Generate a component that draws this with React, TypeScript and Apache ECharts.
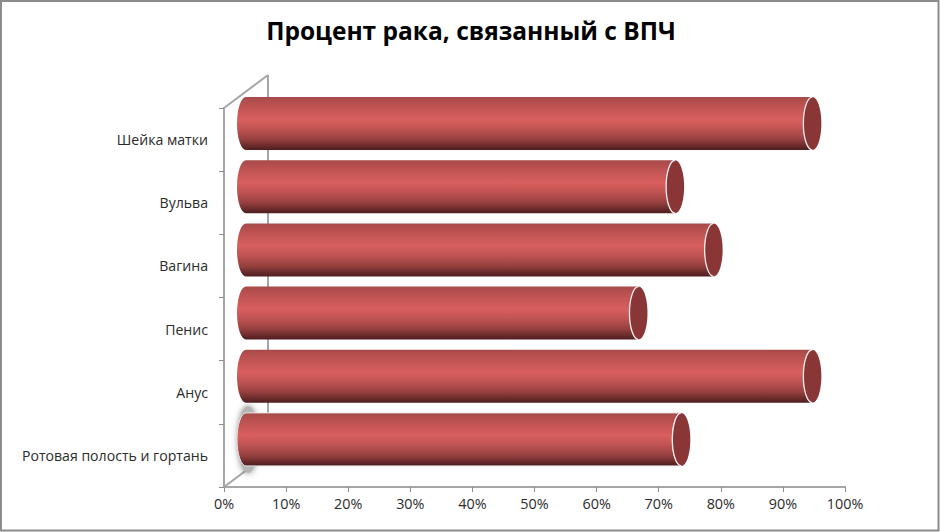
import React, { useEffect, useRef } from "react";
import * as echarts from "echarts";

const titleText = "Процент рака, связанный с ВПЧ";
const categories = ["Шейка матки", "Вульва", "Вагина", "Пенис", "Анус", "Ротовая полость и гортань"];
const percentValues = [91.2, 69.1, 75.3, 63.2, 91.2, 70.1];
const axisMax = 100;
const axisStep = 10;
const FONT = '"Open Sans", "Noto Sans", sans-serif';

const WALL_DX = 44;
const WALL_DY = -33;
const BAR_DX = 22;
const BAR_DY = -16;
const BAR_H = 53;
const CAP_RX = 9;

const bodyGradient = {
  type: "linear", x: 0, y: 0, x2: 0, y2: 1,
  colorStops: [
    { offset: 0, color: "#a84a4a" },
    { offset: 0.12, color: "#b85050" },
    { offset: 0.42, color: "#d95f5e" },
    { offset: 0.6, color: "#c05353" },
    { offset: 0.8, color: "#96403f" },
    { offset: 0.95, color: "#5f2526" },
    { offset: 1, color: "#4e1e20" },
  ],
};

export default function App() {
  const ref = useRef<HTMLDivElement>(null);
  useEffect(() => {
    const chart = echarts.init(ref.current!, null, { renderer: "svg", width: 940, height: 532 });
    const n = categories.length;
    chart.setOption({
      animation: false,
      backgroundColor: "#ffffff",
      title: {
        text: titleText, left: 466, top: 13, textAlign: "center",
        textStyle: { fontFamily: FONT, fontSize: 24.5, fontWeight: "bold", color: "#000000" },
      },
      grid: { left: 224, right: 95, top: 108, bottom: 45, containLabel: false },
      xAxis: {
        type: "value", min: 0, max: axisMax, interval: axisStep, splitLine: { show: false },
        axisLine: { show: true, lineStyle: { color: "#a6a6a6", width: 2 } },
        axisTick: { show: true, length: 5, lineStyle: { color: "#8c8c8c", width: 1 } },
        axisLabel: { formatter: "{value}%", fontFamily: FONT, fontSize: 14.4, color: "#2b2b2b", margin: 9 },
      },
      yAxis: {
        type: "category", inverse: true, data: categories,
        axisLine: { show: true, lineStyle: { color: "#a6a6a6", width: 2 } },
        axisTick: { show: true, length: 5, lineStyle: { color: "#8c8c8c", width: 1 } },
        axisLabel: { fontFamily: FONT, fontSize: 14.1, color: "#2b2b2b", margin: 16, padding: [3, 0, 0, 0] },
        splitLine: { show: false },
      },
      series: [
        {
          type: "custom", silent: true, clip: false, z: 1,
          data: [[0, 0]],
          renderItem: (_p: any, api: any) => {
            const top = api.coord([0, 0]);
            const band = api.size([0, 1])[1];
            const x0 = top[0];
            const yTop = top[1] - band / 2;
            const yBot = yTop + band * n;
            const st = { stroke: "#a6a6a6", lineWidth: 2, fill: "none" };
            return {
              type: "group",
              children: [
                { type: "line", shape: { x1: x0, y1: yTop, x2: x0 + WALL_DX, y2: yTop + WALL_DY }, style: st },
                { type: "line", shape: { x1: x0 + WALL_DX, y1: yTop + WALL_DY, x2: x0 + WALL_DX, y2: yBot + WALL_DY }, style: st },
                { type: "line", shape: { x1: x0, y1: yBot, x2: x0 + WALL_DX, y2: yBot + WALL_DY }, style: st },
              ],
            };
          },
        },
        {
          type: "custom", silent: true, clip: false, z: 2,
          data: percentValues.map((v, i) => [v, i]),
          renderItem: (_p: any, api: any) => {
            const i = api.value(1);
            const end = api.coord([api.value(0), i]);
            const start = api.coord([0, i]);
            const xL = start[0] + BAR_DX;
            const xR = end[0] + BAR_DX;
            const cy = end[1] + BAR_DY;
            const ry = BAR_H / 2;
            const d = `M ${xL} ${cy - ry} L ${xR} ${cy - ry} A ${CAP_RX} ${ry} 0 0 0 ${xR} ${cy + ry} L ${xL} ${cy + ry} A ${CAP_RX} ${ry} 0 0 1 ${xL} ${cy - ry} Z`;
            const seam = `M ${xR} ${cy - ry} A ${CAP_RX} ${ry} 0 0 0 ${xR} ${cy + ry}`;
            const children: any[] = [];
            if (i === n - 1) {
              children.push({
                type: "ellipse",
                shape: { cx: xL + 2, cy: cy, rx: CAP_RX + 1, ry: ry + 7 },
                style: { fill: "#b5b5b5", shadowBlur: 6, shadowColor: "rgba(110,110,110,0.9)" },
              });
            }
            children.push(
              { type: "path", shape: { pathData: d }, style: { fill: bodyGradient, stroke: i === n - 1 ? "#e6e6e6" : "none", lineWidth: 1 } },
              { type: "ellipse", shape: { cx: xR, cy: cy, rx: CAP_RX, ry: ry }, style: { fill: "#8a3637" } },
              { type: "path", shape: { pathData: seam }, style: { fill: "none", stroke: "#f2eeee", lineWidth: 1.3 } },
            );
            return { type: "group", children };
          },
        },
      ],
      graphic: [
        {
          type: "rect", silent: true,
          shape: { x: 1, y: 1, width: 937.5, height: 529.5 },
          style: { fill: "none", stroke: "#8c8c8c", lineWidth: 2 },
        },
      ],
    });
    return () => chart.dispose();
  }, []);
  return <div ref={ref} style={{ position: "fixed", left: 0, top: 0, width: 940, height: 532 }} />;
}
